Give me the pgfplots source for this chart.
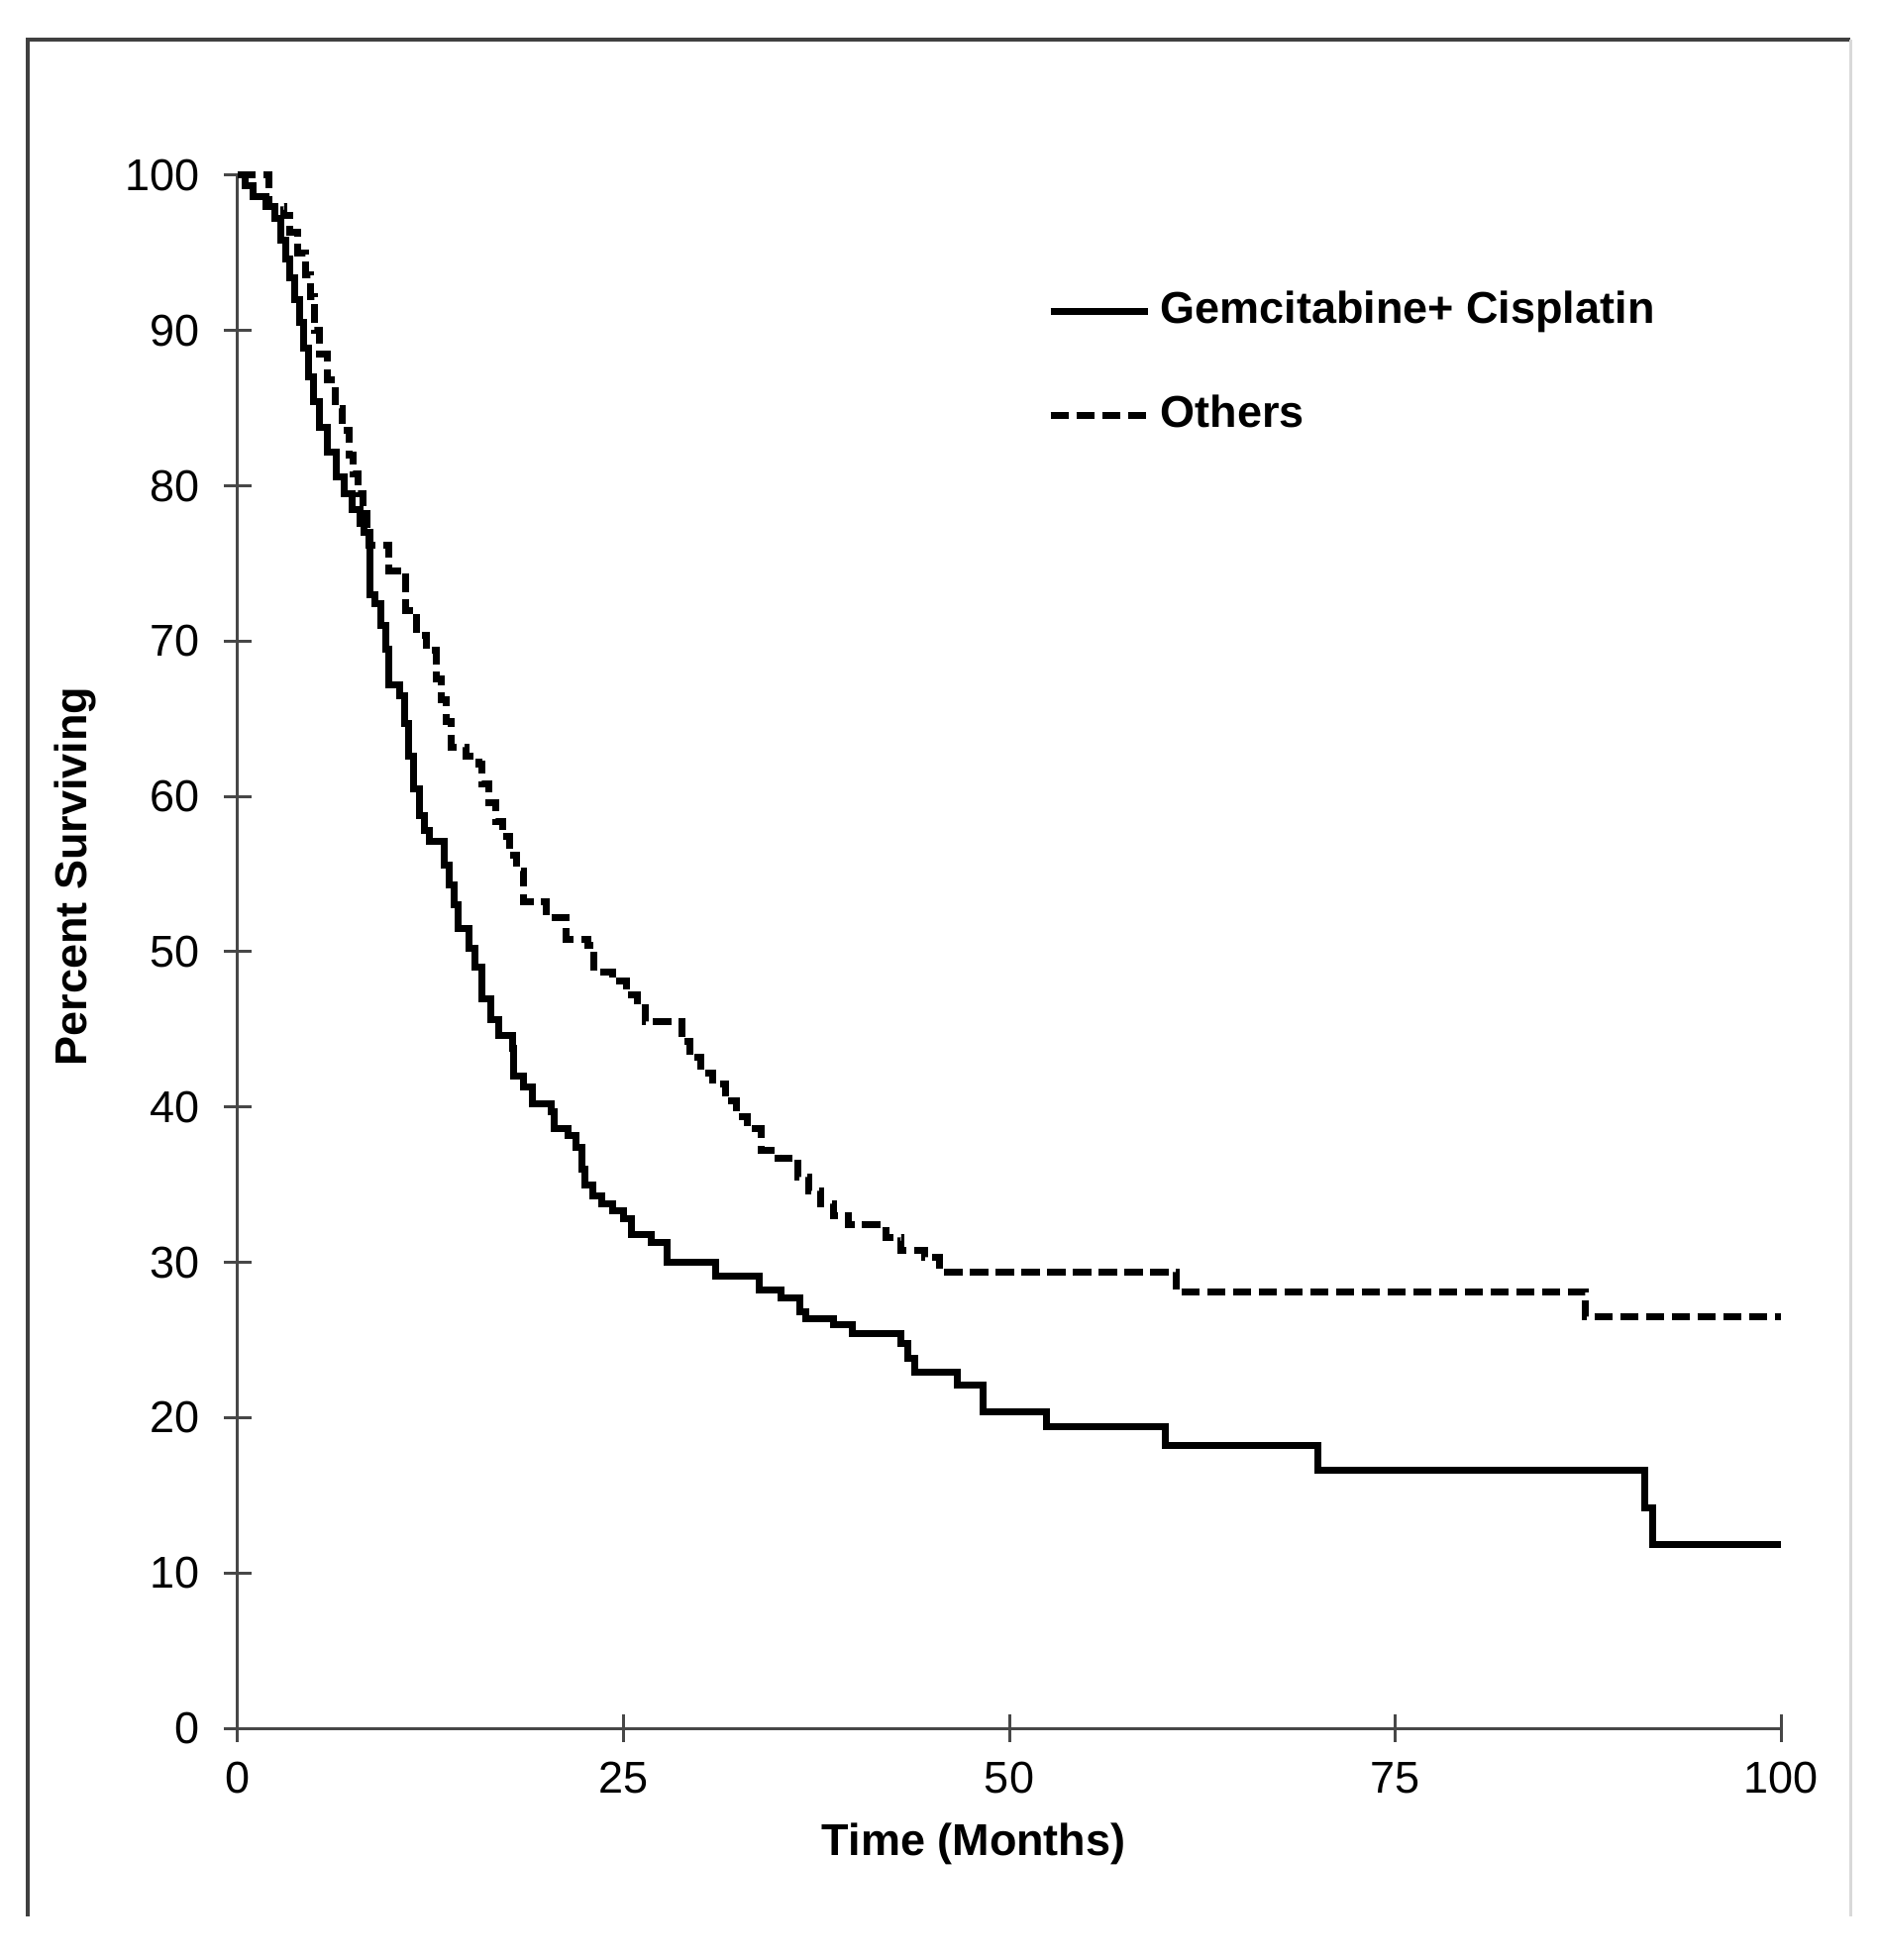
\documentclass[border=0pt]{standalone}
\usepackage{fontspec}
\setmainfont{Liberation Sans}
\usepackage{pgfplots}
\pgfplotsset{compat=1.18}
\begin{document}
\begin{tikzpicture}
\begin{axis}[
  at={(48pt,46.8pt)}, anchor=south west,
  scale only axis, width=311.6pt, height=313.6pt,
  xmin=0, xmax=100, ymin=0, ymax=100,
  axis x line=bottom, axis y line=left,
  axis line style={-, draw=black!72, line width=0.6pt},
  tick style={draw=black!72, line width=0.6pt},
  tick align=center, major tick length=5.6pt,
  xtick={0,25,50,75,100}, ytick={0,10,...,100},
  /pgf/number format/assume math mode=true,
  ticklabel style={font=\fontsize{9}{10.8}\selectfont, inner sep=0pt},
  xticklabel style={anchor=center, yshift=-7.3pt},
  yticklabel style={anchor=east, xshift=-4.7pt},
  xlabel={Time (Months)}, ylabel={Percent Surviving},
  label style={font=\fontsize{9}{10.8}\selectfont\bfseries},
  xlabel style={at={(axis description cs:0.477,-0.0746)}, anchor=center},
  ylabel style={at={(axis description cs:-0.1053,0.5485)}, anchor=center, rotate=0},
  clip=false,
  legend style={at={(axis cs:52.8,91.4)}, xshift=-1.3pt, yshift=3.8pt, anchor=north west,
    draw=none, fill=none, inner sep=0pt, row sep=12.6pt, column sep=1.9pt,
    font=\fontsize{9}{10.8}\selectfont\bfseries,
    nodes={inner sep=0pt, text height=6.5pt, text depth=1.9pt}},
  legend cell align=left,
  legend image code/.code={\draw[#1] (0pt,0pt) -- (19.6pt,0pt);},
]
\addplot[const plot, black, line width=1.4pt] coordinates {
(0,100) (0.5,99.3) (1.0,98.6) (1.8,98.0) (2.4,97.2) (2.8,95.8) (3.1,94.6) (3.4,93.4)
(3.7,92.0) (4.0,90.5) (4.3,88.9) (4.6,87.0) (4.9,85.4) (5.3,83.8) (5.8,82.2) (6.4,80.6)
(6.9,79.5) (7.4,78.5) (7.9,77.6) (8.2,77.0) (8.55,76.2) (8.6,73.0) (8.9,72.4)
(9.3,71.0) (9.6,69.5) (9.8,67.2) (10.5,66.5) (10.8,64.7) (11.1,62.6) (11.4,60.5) (11.8,58.8)
(12.1,57.8) (12.4,57.1) (13.4,55.6) (13.7,54.3) (14.0,53.0) (14.3,51.5) (15.0,50.2) (15.4,49.0)
(15.8,47.0) (16.4,45.6) (16.9,44.6) (17.8,43.8) (17.9,42.0) (18.5,41.3) (19.1,40.2) (20.3,39.7)
(20.5,38.6) (21.4,38.2) (21.9,37.4) (22.3,36.0) (22.5,35.0) (23.0,34.3) (23.6,33.8) (24.3,33.3)
(25.0,32.8) (25.5,31.8) (26.8,31.3) (27.8,30.0) (31.0,29.1) (33.8,28.2) (35.2,27.7) (36.4,26.8)
(36.8,26.4) (38.6,26.0) (39.8,25.4) (43.0,24.8) (43.4,23.8) (43.9,22.9) (46.6,22.1) (48.3,20.4)
(52.4,19.4) (60.1,18.2) (70.0,16.6) (91.2,14.2) (91.7,11.8) (100,11.8)
};
\addlegendentry{Gemcitabine+ Cisplatin}
\addplot[const plot, black, line width=1.4pt, dash pattern=on 3.7pt off 1.5pt] coordinates {
(0,100) (2.0,98.0) (3.0,97.4) (3.4,96.3) (3.9,95.0) (4.4,93.6) (4.7,92.2) (5.0,90.0)
(5.3,88.5) (5.8,86.8) (6.3,85.0) (6.8,83.6) (7.2,82.0) (7.5,80.8) (7.8,79.5) (8.1,78.2)
(8.35,77.2) (8.5,76.2)
(9.8,74.5) (10.9,72.0) (11.6,70.4) (12.2,69.4) (12.9,67.6) (13.2,66.2) (13.5,64.8) (13.8,63.2)
(14.8,62.6) (15.6,62.1) (15.8,60.8) (16.3,59.6) (16.7,58.4) (17.2,57.4) (17.6,56.2) (18.1,55.2)
(18.5,53.2) (20.0,52.2) (21.3,50.8) (22.7,50.4) (23.1,48.7) (24.3,48.1) (25.2,47.2) (25.9,46.4)
(26.4,45.5) (28.8,44.2) (29.3,43.2) (30.0,42.2) (30.8,41.5) (31.6,40.4) (32.3,39.4) (33.0,38.6)
(33.9,37.2) (35.0,36.7) (36.3,35.5) (37.0,34.6) (37.8,33.8) (38.6,33.0) (39.6,32.4) (42.0,31.6)
(43.0,30.8) (44.5,30.3) (45.5,29.4) (60.8,28.1) (87.3,26.5) (100,26.5)
};
\addlegendentry{Others}
\end{axis}
\draw[black!75, line width=0.7pt] (5.6pt,8.8pt) -- (5.6pt,387.8pt) -- (373.6pt,387.8pt);
\draw[black!15, line width=0.6pt] (373.6pt,387.8pt) -- (373.6pt,8.8pt);
\pgfresetboundingbox
\path[use as bounding box] (0,0) rectangle (379.4pt,395.8pt);
\end{tikzpicture}
\end{document}
